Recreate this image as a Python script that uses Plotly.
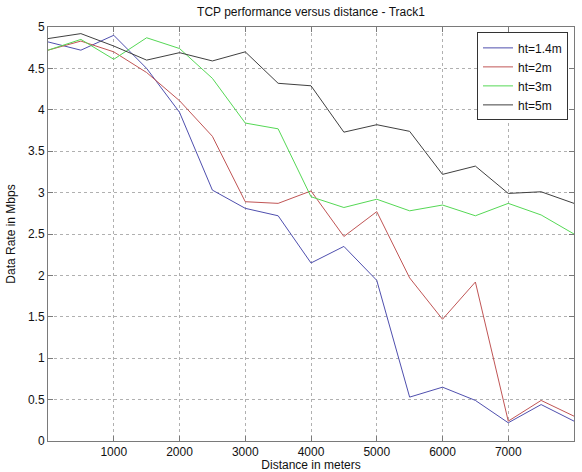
import plotly.graph_objects as go

distance = [0, 500, 1000, 1500, 2000, 2500, 3000, 3500, 4000, 4500, 5000, 5500, 6000, 6500, 7000, 7500, 8000]
ht_1_4 = [4.82, 4.72, 4.90, 4.50, 3.97, 3.03, 2.81, 2.72, 2.15, 2.35, 1.94, 0.53, 0.65, 0.49, 0.22, 0.44, 0.24]
ht_2 = [4.72, 4.83, 4.70, 4.45, 4.11, 3.68, 2.89, 2.87, 3.02, 2.47, 2.77, 1.97, 1.47, 1.92, 0.24, 0.49, 0.30]
ht_3 = [4.72, 4.85, 4.61, 4.87, 4.74, 4.38, 3.84, 3.77, 2.95, 2.82, 2.92, 2.78, 2.85, 2.72, 2.87, 2.73, 2.50]
ht_5 = [4.86, 4.92, 4.77, 4.60, 4.69, 4.59, 4.70, 4.32, 4.29, 3.73, 3.82, 3.74, 3.22, 3.32, 2.99, 3.01, 2.87]

names = ["ht=1.4m", "ht=2m", "ht=3m", "ht=5m"]
series = [ht_1_4, ht_2, ht_3, ht_5]
colors = ["#4f4fae", "#c05555", "#55d855", "#404040"]

x_ticks = [1000, 2000, 3000, 4000, 5000, 6000, 7000, 8000]
y_ticks = [0, 0.5, 1, 1.5, 2, 2.5, 3, 3.5, 4, 4.5, 5]

fig = go.Figure()
for n, s, c in zip(names, series, colors):
    fig.add_trace(go.Scatter(x=distance, y=s, mode="lines", name=n,
                             line=dict(color=c, width=1)))

font = "Liberation Sans, Arial, sans-serif"
axis_common = dict(
    showline=True, linecolor="#7a7a7a", linewidth=1, mirror="ticks",
    ticks="inside", ticklen=5, tickcolor="#7a7a7a",
    showgrid=True, gridcolor="#b0b0b0", griddash="dot", gridwidth=1,
    zeroline=False, tickfont=dict(family=font, size=12, color="#111"),
    automargin=False,
)

fig.update_layout(
    width=582, height=472,
    margin=dict(l=48, r=8, t=27, b=31, pad=0),
    paper_bgcolor="white", plot_bgcolor="white",
    title=dict(text="TCP performance versus distance - Track1",
               font=dict(family=font, size=12, color="#111"),
               x=0.5, xanchor="center", xref="paper",
               y=1 - 12 / 472, yref="container", yanchor="middle"),
    xaxis=dict(range=[0, 8000], tickvals=x_ticks,
               title=dict(text="Distance in meters", standoff=0,
                          font=dict(family=font, size=12, color="#111")),
               **axis_common),
    yaxis=dict(range=[0, 5], tickvals=y_ticks,
               ticktext=[f"{v:g}" for v in y_ticks],
               title=dict(text="Data Rate in Mbps", standoff=9,
                          font=dict(family=font, size=12, color="#111")),
               **axis_common),
    legend=dict(x=0.9886, y=0.987, xanchor="right", yanchor="top",
                bgcolor="white", bordercolor="#333", borderwidth=1,
                font=dict(family=font, size=12, color="#111"),
                tracegroupgap=0, itemwidth=30),
    showlegend=True,
)

fig.write_html("out.html")
